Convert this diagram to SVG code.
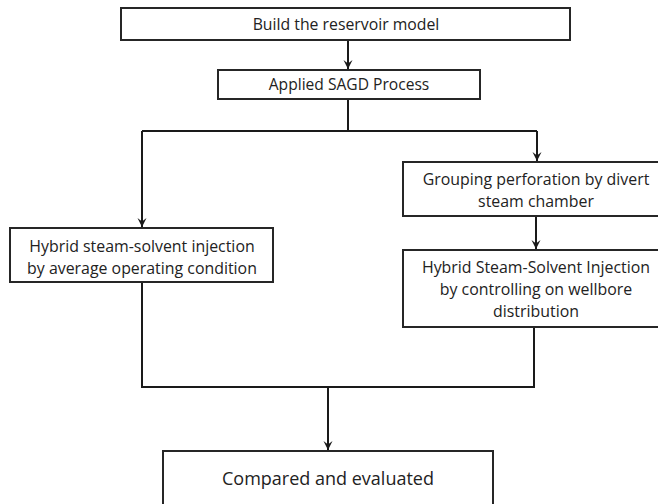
<svg xmlns="http://www.w3.org/2000/svg" width="658" height="504" viewBox="0 0 658 504">
<style>
.box{fill:#fff;stroke:#262626;stroke-width:2}
.ln{fill:none;stroke:#1a1a1a;stroke-width:2}
text{font-family:"Open Sans","Liberation Sans",Arial,sans-serif;fill:#222;text-anchor:middle}
.s{font-size:15.8px}
.a{font-size:15.6px}
.m{font-size:15.9px}
.l{font-size:18px}
</style>
<defs>
<marker id="ah" markerUnits="userSpaceOnUse" markerWidth="10" markerHeight="10" refX="9" refY="5" orient="auto" viewBox="0 0 10 10">
<path d="M0,0.5 L9,5 L0,9.5 L3.5,5 z" fill="#1a1a1a"/>
</marker>
</defs>
<rect width="658" height="504" fill="#fff"/>
<g id="connectors">
<path class="ln" d="M348,40 V69" marker-end="url(#ah)"/>
<path class="ln" d="M348,99 V131 M142,131 H537"/>
<path class="ln" d="M142,131 V227" marker-end="url(#ah)"/>
<path class="ln" d="M537,131 V161" marker-end="url(#ah)"/>
<path class="ln" d="M536,216 V249" marker-end="url(#ah)"/>
<path class="ln" d="M142,282 V387 H534 V327"/>
<path class="ln" d="M328,387 V450" marker-end="url(#ah)"/>
</g>
<g id="n1"><rect class="box" x="121" y="8" width="449" height="32"/><text class="s" x="346" y="30">Build the reservoir model</text></g>
<g id="n2"><rect class="box" x="218" y="70" width="262" height="29"/><text class="a" x="349" y="90">Applied SAGD Process</text></g>
<g id="n3"><rect class="box" x="10" y="228" width="263" height="54"/><text class="m" x="142" y="252">Hybrid steam-solvent injection</text><text class="m" x="142" y="274">by average operating condition</text></g>
<g id="n4"><rect class="box" x="403" y="162" width="262" height="54"/><text class="m" x="536" y="185">Grouping perforation by divert</text><text class="m" x="536" y="207">steam chamber</text></g>
<g id="n5"><rect class="box" x="403" y="250" width="262" height="77"/><text class="m" x="536" y="273">Hybrid Steam-Solvent Injection</text><text class="m" x="536" y="295">by controlling on wellbore</text><text class="m" x="536" y="317">distribution</text></g>
<g id="n6"><rect class="box" x="163" y="451" width="330" height="60"/><text class="l" x="328" y="485">Compared and evaluated</text></g>
</svg>
